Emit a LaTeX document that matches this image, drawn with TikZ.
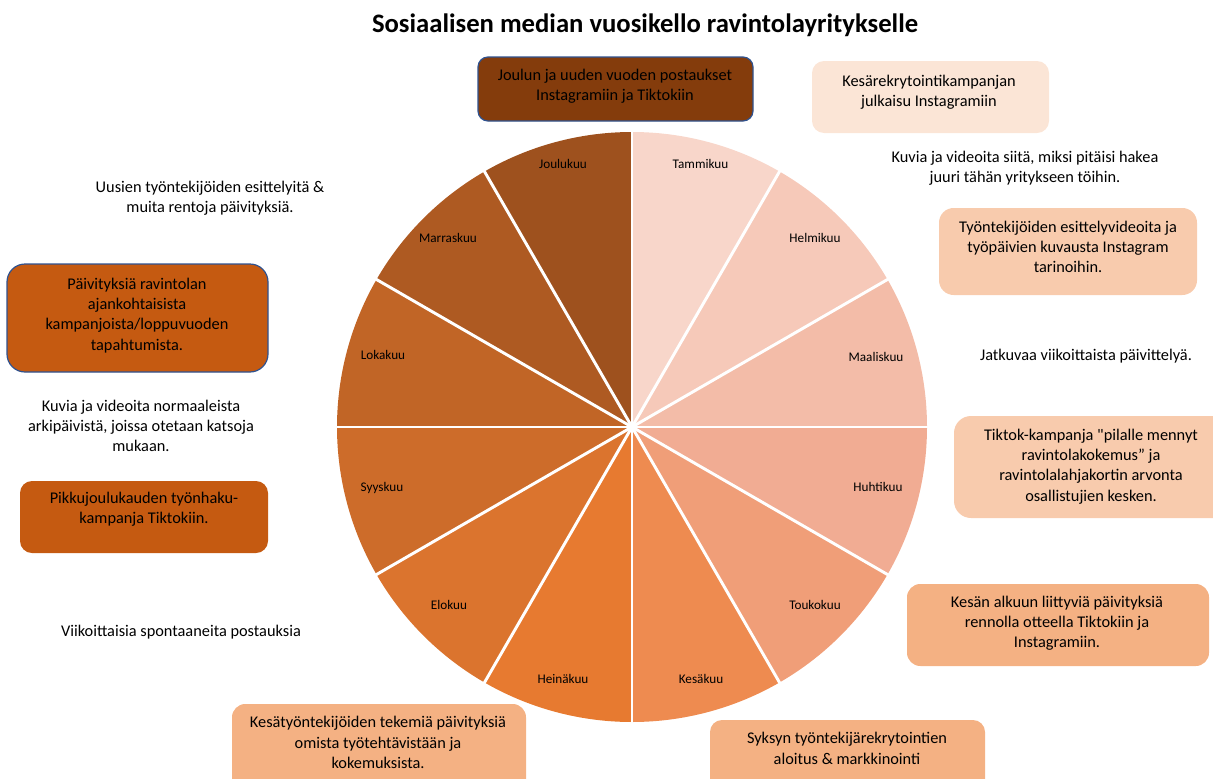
\documentclass[tikz,border=0pt]{standalone}
\usepackage{fontspec}
\setmainfont{Carlito}
\newfontfamily\plainc{Carlito}
\definecolor{m1}{RGB}{248,214,202}
\definecolor{m2}{RGB}{246,201,185}
\definecolor{m3}{RGB}{243,188,168}
\definecolor{m4}{RGB}{241,172,147}
\definecolor{m5}{RGB}{240,158,120}
\definecolor{m6}{RGB}{238,139,80}
\definecolor{m7}{RGB}{231,122,48}
\definecolor{m8}{RGB}{219,116,46}
\definecolor{m9}{RGB}{205,108,42}
\definecolor{m10}{RGB}{193,101,38}
\definecolor{m11}{RGB}{174,90,34}
\definecolor{m12}{RGB}{158,81,30}
\definecolor{darkbrown}{RGB}{132,60,12}
\definecolor{rust}{RGB}{197,90,17}
\definecolor{peachA}{RGB}{251,229,214}
\definecolor{peachB}{RGB}{248,203,173}
\definecolor{peachC}{RGB}{244,177,131}
\definecolor{edgeblue}{RGB}{47,82,143}
\tikzset{
  txt/.style={align=center, font=\fontsize{12.25}{15.2}\selectfont, inner sep=0pt, text=black},
  mon/.style={font=\fontsize{9.9}{12}\selectfont, inner sep=0pt, text=black},
  sep/.style={white, line width=2.2pt},
  bline/.style={draw=edgeblue, line width=0.9pt}
}
\begin{document}
\begin{tikzpicture}[x=0.75pt, y=-0.75pt]
\useasboundingbox (0,0) rectangle (1213,778);
\clip (0,0) rectangle (1213,778);

% title
\node[font=\fontsize{20}{24}\selectfont\bfseries, inner sep=0pt] (title) at (645,25) {Sosiaalisen median vuosikello ravintolayritykselle};

% pie
\coordinate (c) at (632,427);
\foreach \i/\col in {0/m1,1/m2,2/m3,3/m4,4/m5,5/m6,6/m7,7/m8,8/m9,9/m10,10/m11,11/m12} {
  \fill[\col] (c) -- ++({30*\i-90}:295) arc[start angle={30*\i-90}, end angle={30*\i-60}, radius=295] -- cycle;
}
\foreach \i in {0,...,11} {
  \draw[sep] (c) -- ++({30*\i-90}:297);
}

% month labels
\node[mon] (jan) at (700.5,164) {Tammikuu};
\node[mon] (feb) at (815,238) {Helmikuu};
\node[mon] (mar) at (876,357) {Maaliskuu};
\node[mon] (apr) at (878,487) {Huhtikuu};
\node[mon] (may) at (815,605) {Toukokuu};
\node[mon] (jun) at (701,679) {Kesäkuu};
\node[mon] (jul) at (563,679) {Heinäkuu};
\node[mon] (aug) at (449,605) {Elokuu};
\node[mon] (sep) at (382,488) {Syyskuu};
\node[mon] (oct) at (383,355) {Lokakuu};
\node[mon] (nov) at (448,238) {Marraskuu};
\node[mon] (dec) at (563,164) {Joulukuu};

% boxes
\path[fill=darkbrown, bline, rounded corners=7.5pt] (478,57) rectangle (753,121);
\node[txt] (b1) at (615,86.5) {Joulun ja uuden vuoden postaukset\\Instagramiin ja Tiktokiin};

\fill[peachA, rounded corners=9pt] (812,61) rectangle (1049,133);
\node[txt] (b2) at (929,92) {Kesärekrytointikampanjan\\julkaisu Instagramiin};

\node[txt] (t3) at (1025,168.5) {Kuvia ja videoita siitä, miksi pitäisi hakea\\juuri tähän yritykseen töihin.};

\fill[peachB, rounded corners=11pt] (939,208) rectangle (1197,295);
\node[txt] (b4) at (1068,247) {Työntekijöiden esittelyvideoita ja\\työpäivien kuvausta Instagram\\tarinoihin.};

\node[txt] (t5) at (1086,356) {Jatkuvaa viikoittaista päivittelyä.};

\fill[peachB, rounded corners=12.75pt] (954,416) rectangle (1230,518);
\node[txt] (b6) at (1091,466.5) {Tiktok-kampanja {\plainc "}pilalle mennyt\\ravintolakokemus” ja\\ravintolalahjakortin arvonta\\osallistujien kesken.};

\fill[peachC, rounded corners=10pt] (907,584) rectangle (1209,666);
\node[txt] (b7) at (1057,623) {Kesän alkuun liittyviä päivityksiä\\rennolla otteella Tiktokiin ja\\Instagramiin.};

\fill[peachC, rounded corners=9pt] (710,720) rectangle (985,800);
\node[txt] (b8) at (847,748.5) {Syksyn työntekijärekrytointien\\aloitus \& markkinointi};

\fill[peachC, rounded corners=10pt] (232,704) rectangle (526,800);
\node[txt] (b9) at (378,742.5) {Kesätyöntekijöiden tekemiä päivityksiä\\omista työtehtävistään ja\\kokemuksista.};

\node[txt] (t10) at (181,632) {Viikoittaisia spontaaneita postauksia};

\fill[rust, rounded corners=9pt] (20,481) rectangle (268,553);
\node[txt] (b11) at (144,509.5) {Pikkujoulukauden työnhaku-\\kampanja Tiktokiin.};

\node[txt] (t12) at (141,426) {Kuvia ja videoita normaaleista\\arkipäivistä, joissa otetaan katsoja\\mukaan.};

\path[fill=rust, bline, rounded corners=13.5pt] (7,264) rectangle (268,372);
\node[txt] (b13) at (137,315.5) {Päivityksiä ravintolan\\ajankohtaisista\\kampanjoista/loppuvuoden\\tapahtumista.};

\node[txt] (t14) at (210,198) {Uusien työntekijöiden esittelyitä \&\\muita rentoja päivityksiä.};
\end{tikzpicture}
\end{document}
